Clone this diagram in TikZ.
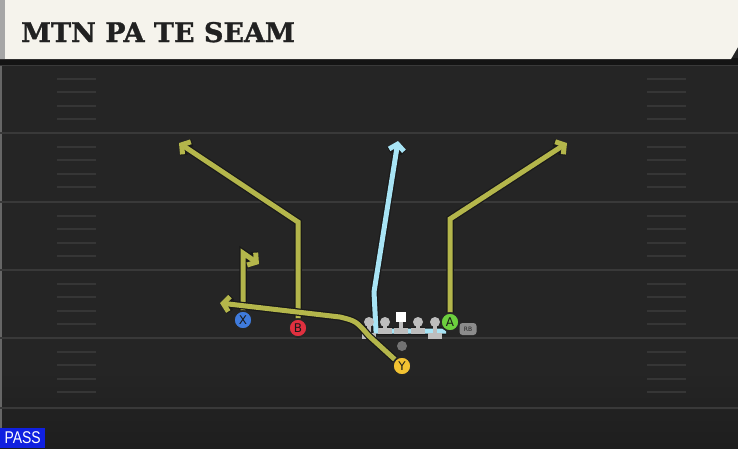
\documentclass[tikz,border=0pt]{standalone}
\usepackage{fontspec}
\setmainfont{DejaVu Sans}
\newfontfamily\titlefont{DejaVu Serif}[FakeBold=1.2]
\newfontfamily\tagfont{Liberation Sans}
\usetikzlibrary{arrows.meta}
\definecolor{field}{HTML}{252525}
\definecolor{fieldlow}{HTML}{1E1E1E}
\definecolor{banner}{HTML}{F5F3EC}
\definecolor{yardline}{HTML}{393939}
\definecolor{hashline}{HTML}{363636}
\definecolor{routey}{HTML}{B4B64B}
\definecolor{seamblue}{HTML}{A8E4F5}
\definecolor{xblue}{HTML}{3F7BDD}
\definecolor{bred}{HTML}{E0303F}
\definecolor{yyellow}{HTML}{F2C232}
\definecolor{agreen}{HTML}{6CCF3E}
\definecolor{lineman}{HTML}{BDBDBD}
\definecolor{passblue}{HTML}{1020E0}
\begin{document}
\begin{tikzpicture}[x=1pt,y=-1pt,
  player/.style={circle,draw=black!85,line width=1.5pt,inner sep=0pt,minimum size=18pt,
    text=black!90,font=\fontsize{12}{12}\selectfont},
  route/.style={draw=routey,line width=5pt,line join=miter,
    -{Straight Barb[length=6pt,width=15pt]},preaction={draw=black!90,line width=7.5pt}},
  seam/.style={route,draw=seamblue},
  hash/.style={hashline,line width=2pt}]
\useasboundingbox (0,0) rectangle (738,448);
\fill[field] (0,0) rectangle (738,448);
\shade[top color=field,bottom color=fieldlow] (0,370) rectangle (738,448);
\fill[black!60] (0,60) rectangle (2,448);
\foreach \yl in {65,133,202,270,338,408}
  \draw[yardline,line width=2.5pt] (0,\yl) -- (738,\yl);
\foreach \yl in {65,133,202,270,338}
  \foreach \k in {1,...,4} {
    \draw[hash] (57,{\yl+\k*13.6}) -- (96,{\yl+\k*13.6});
    \draw[hash] (647,{\yl+\k*13.6}) -- (686,{\yl+\k*13.6});
  }
\fill[black!92] (0,58) rectangle (738,65);
\fill[banner] (0,0) -- (738,0) -- (738,47) -- (731,59) -- (0,59) -- cycle;
\fill[black!35] (0,0) rectangle (5,59);
\node[anchor=base west,inner sep=0pt,text=black!87,
  font=\titlefont\bfseries\fontsize{27}{27}\selectfont] (title) at (21,42) {MTN PA TE SEAM};

\coordinate (teflat) at (446,331);
\coordinate (tecut) at (376,331);
\coordinate (tebend) at (374,292);
\coordinate (teend) at (398,141);
\draw[seam] (teflat) -- (tecut) -- (tebend) -- (teend);

\foreach \lx/\by in {369/336,385/331,418/331,435/336} {
  \fill[lineman] (\lx,322) circle (5);
  \fill[lineman] ({\lx-2},323) rectangle ({\lx+2},\by);
  \fill[lineman] ({\lx-7},{\by-3}) rectangle ({\lx+7},{\by+3});
}
\fill[lineman] (399,318) rectangle (403,331);
\fill[lineman] (394,328) rectangle (408,334);
\node[fill=white,inner sep=0pt,minimum size=10pt] (C) at (401,317) {};
\node[circle,fill=black!55,inner sep=0pt,minimum size=10pt] (qb) at (402,346) {};
\node[fill=black!45,rounded corners=3pt,inner sep=0pt,minimum width=17pt,minimum height=12pt,
  text=black!85,font=\fontsize{6}{6}\selectfont] (rb) at (468,329) {RB};

\node[player,fill=xblue] (X) at (243,320) {X};
\node[player,fill=bred] (B) at (298,328) {B};
\node[player,fill=yyellow] (Y) at (402,366) {Y};
\node[player,fill=agreen] (A) at (450,322) {A};

\coordinate (xstem) at (243,253);
\coordinate (xend) at (259,264);
\coordinate (bstem) at (298,222);
\coordinate (bend) at (179,143);
\coordinate (astem) at (450,219);
\coordinate (aend) at (567,143);
\coordinate (ydrop) at (369,336);
\coordinate (yflat) at (340,317);
\coordinate (yend) at (220,303);
\draw[route] (X) -- (xstem) -- (xend);
\draw[route] (B) -- (bstem) -- (bend);
\draw[route] (A) -- (astem) -- (aend);
\draw[route] (Y) -- (ydrop) .. controls (356,321) .. (yflat) -- (yend);
\node[player,fill=xblue] at (X) {X};
\node[player,fill=bred] at (B) {B};
\node[player,fill=yyellow] at (Y) {Y};
\node[player,fill=agreen] at (A) {A};

\node[fill=passblue,text=white,anchor=south west,inner sep=0pt,minimum width=45pt,minimum height=20pt,
  font=\tagfont\fontsize{17}{17}\selectfont] (pass) at (0,448) {\scalebox{0.82}[1]{PASS}};
\end{tikzpicture}
\end{document}
